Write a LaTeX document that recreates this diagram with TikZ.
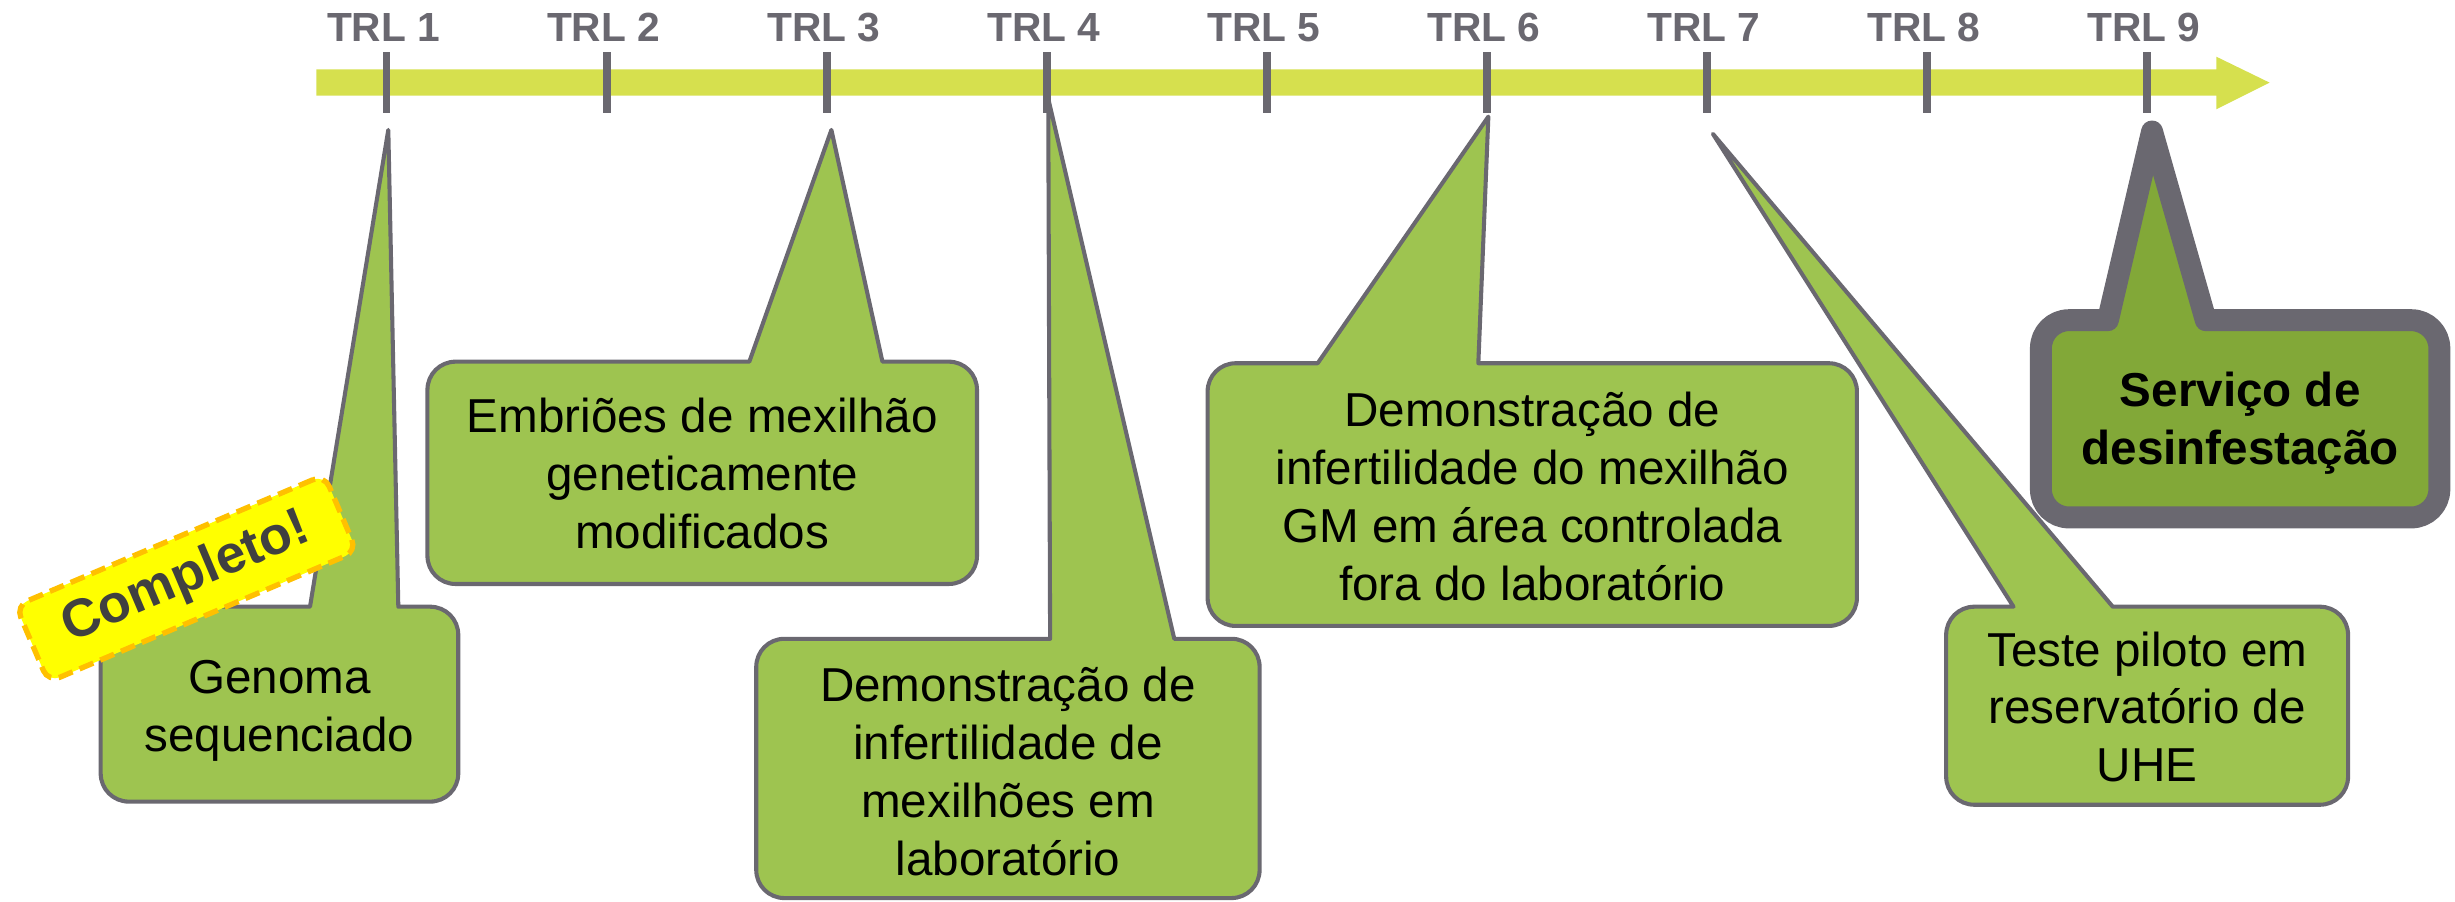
\documentclass[tikz,border=0pt]{standalone}
\usepackage{fontspec}
\setmainfont{Liberation Sans}
\definecolor{barc}{RGB}{214,224,78}
\definecolor{grayc}{RGB}{106,104,112}
\definecolor{boxc}{RGB}{158,196,80}
\definecolor{darkbox}{RGB}{130,168,56}
\definecolor{badgefill}{RGB}{255,255,0}
\definecolor{badgeline}{RGB}{255,192,0}
\definecolor{badgetext}{RGB}{64,64,64}
\tikzset{
  callout/.style={draw=grayc, fill=boxc, line width=1.3pt, line join=round},
  bigcallout/.style={draw=grayc, fill=darkbox, line width=7pt, line join=round},
  trltick/.style={draw=grayc, line width=2.4pt},
  trllabel/.style={text=grayc, font=\fontsize{13}{15}\selectfont\bfseries, anchor=base, inner sep=0pt},
  boxtext/.style={align=center, inner sep=0pt, font=\fontsize{15.2}{18.5}\selectfont},
  boldboxtext/.style={boxtext, font=\fontsize{15.2}{18.5}\selectfont\bfseries},
  badge/.style={draw=badgeline, fill=badgefill, line width=1.7pt, dash pattern=on 4.8pt off 2.4pt,
    rounded corners=4pt, minimum width=107pt, minimum height=26.5pt, inner sep=0pt,
    text=badgetext, font=\fontsize{17}{19}\selectfont\bfseries},
}
% #1 style, #2 L, #3 T, #4 R, #5 B, #6 pointer base left, #7 pointer base right, #8 tip coordinate
\newcommand{\drawcallout}[8]{%
  \draw[#1] ({#2+18},#3) -- (#6,#3) -- (#8) -- (#7,#3) -- ({#4-18},#3)
    .. controls ({#4-8},#3) and (#4,{#3+8}) .. (#4,{#3+18})
    -- (#4,{#5-18}) .. controls (#4,{#5-8}) and ({#4-8},#5) .. ({#4-18},#5)
    -- ({#2+18},#5) .. controls ({#2+8},#5) and (#2,{#5-8}) .. (#2,{#5-18})
    -- (#2,{#3+18}) .. controls (#2,{#3+8}) and ({#2+8},#3) .. ({#2+18},#3) -- cycle;}
\begin{document}
\begin{tikzpicture}[x=0.5pt,y=-0.5pt]
\useasboundingbox (0,0) rectangle (1568,575.5);
% timeline arrow
\fill[barc] (202,44.3) -- (1415.5,44.3) -- (1415.5,36.2) -- (1449.6,52.8)
  -- (1415.5,69.8) -- (1415.5,61.1) -- (202,61.1) -- cycle;
% pointer tips
\coordinate (p1) at (248,83);
\coordinate (p2) at (531,83);
\coordinate (p3) at (669.5,63);
\coordinate (p4) at (950.6,74.5);
\coordinate (p5) at (1094,85.5);
\coordinate (p6) at (1374.5,84);
% callouts
\drawcallout{callout}{64.3}{387.5}{292.7}{512}{198}{254.4}{p1}
\drawcallout{callout}{273}{231}{624}{373}{478.6}{563.6}{p2}
\drawcallout{callout}{483}{408}{804.5}{573.6}{670.7}{750}{p3}
\drawcallout{callout}{771.3}{232}{1186}{399.8}{841.6}{944.2}{p4}
\drawcallout{callout}{1243}{387.5}{1499.7}{514}{1286}{1349.4}{p5}
\drawcallout{bigcallout}{1303.5}{204.5}{1558}{330.5}{1346.3}{1408.8}{p6}
% texts
\node[boxtext] (b1) at (178.5,453.9) {\strut Genoma\\\strut sequenciado};
\node[boxtext] (b2) at (448.5,306) {\strut Embriões de mexilhão\\\strut geneticamente\\\strut modificados};
\node[boxtext] (b3) at (643.8,496.1) {\strut Demonstração de\\\strut infertilidade de\\\strut mexilhões em\\\strut laboratório};
\node[boxtext] (b4) at (978.7,320.6) {\strut Demonstração de\\\strut infertilidade do mexilhão\\\strut GM em área controlada\\\strut fora do laboratório};
\node[boxtext] (b5) at (1371.4,455) {\strut Teste piloto em\\\strut reservatório de\\\strut UHE};
\node[boldboxtext] (b6) at (1430.8,270.8) {\strut Serviço de\\\strut desinfestação};
% ticks and labels
\foreach \i in {1,...,9} {
  \pgfmathsetmacro{\tx}{247+140.54*(\i-1)}
  \draw[trltick] (\tx,33.5) -- (\tx,72.5);
  \node[trllabel] (trl\i) at ({\tx-2},26.6) {TRL \i};
}
% badge
\node[badge, rotate=23] (done) at (119,369.5) {Completo!};
\end{tikzpicture}
\end{document}
